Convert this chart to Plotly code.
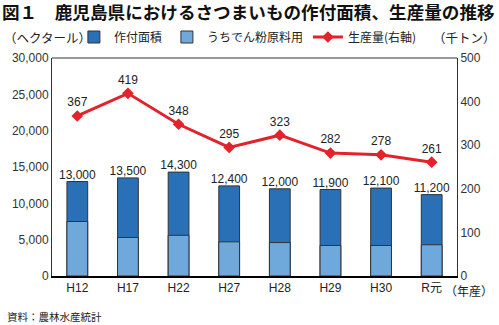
import plotly.graph_objects as go

years = ["H12", "H17", "H22", "H27", "H28", "H29", "H30", "R元"]
area_total = [13000, 13500, 14300, 12400, 12000, 11900, 12100, 11200]
area_starch = [7500, 5300, 5600, 4700, 4600, 4200, 4200, 4300]
production = [367, 419, 348, 295, 323, 282, 278, 261]

FONT = "Liberation Sans, Arial, Noto Sans CJK JP, sans-serif"
DARK = "#2a70b6"
LIGHT = "#6fa9dc"
RED = "#e2232b"

fig = go.Figure()
fig.add_trace(go.Bar(
    x=years, y=area_total, name="作付面積",
    marker=dict(color=DARK, line=dict(color="#333333", width=1)),
    width=0.41, yaxis="y",
))
fig.add_trace(go.Bar(
    x=years, y=area_starch, name="うちでん粉原料用",
    marker=dict(color=LIGHT, line=dict(color="#333333", width=1)),
    width=0.41, yaxis="y",
))
fig.add_trace(go.Scatter(
    x=years, y=area_total, mode="text",
    text=[f"{v:,}" for v in area_total], textposition="top center",
    textfont=dict(size=12, color="#222222", family=FONT),
    showlegend=False, hoverinfo="skip", cliponaxis=False, yaxis="y",
))
fig.add_trace(go.Scatter(
    x=years, y=production, name="生産量(右軸)", yaxis="y2",
    mode="lines+markers+text",
    line=dict(color=RED, width=3),
    marker=dict(symbol="diamond", size=9, color=RED),
    text=[str(v) for v in production], textposition="top center",
    textfont=dict(size=12, color="#222222", family=FONT),
    cliponaxis=False,
))

fig.update_layout(
    width=499, height=325,
    margin=dict(l=50, r=42, t=58, b=49),
    paper_bgcolor="white", plot_bgcolor="white",
    barmode="overlay",
    font=dict(family=FONT, size=12, color="#222222"),
    title=dict(
        text="<b>図１　鹿児島県におけるさつまいもの作付面積、生産量の推移</b>",
        xref="container", yref="container", x=0.004, xanchor="left",
        y=1 - 13 / 325, yanchor="middle",
        font=dict(size=17.6, family="Noto Sans CJK JP", color="#111111"),
    ),
    xaxis=dict(
        range=[-0.5, 7.5],
        showline=True, linecolor="black", linewidth=2,
        ticks="", tickfont=dict(size=12, family=FONT),
        showgrid=False,
    ),
    yaxis=dict(
        range=[0, 30000], dtick=5000, tickformat=",",
        showline=True, linecolor="#333333", linewidth=1, mirror=False,
        showgrid=False, zeroline=False, ticks="",
        tickfont=dict(size=12, family=FONT, color="#333333"),
    ),
    yaxis2=dict(
        range=[0, 500], dtick=100, overlaying="y", side="right",
        showline=True, linecolor="#333333", linewidth=1,
        showgrid=False, zeroline=False, ticks="",
        tickfont=dict(size=12, family=FONT, color="#333333"),
    ),
    legend=dict(
        orientation="h", x=(72 - 50) / 407, xanchor="left",
        y=(276 - 37) / 218, yanchor="middle",
        font=dict(size=12, family="Noto Sans CJK JP"),
        bgcolor="rgba(0,0,0,0)", itemwidth=30, tracegroupgap=0,
        traceorder="normal",
    ),
    shapes=[dict(type="line", xref="paper", yref="paper", x0=0, x1=1, y0=1, y1=1,
                 line=dict(color="#333333", width=1))],
    annotations=[
        dict(text="（ヘクタール）", xref="paper", yref="paper",
             x=(0 - 50) / 407, y=(276 - 37) / 218, xanchor="left", yanchor="middle",
             showarrow=False, font=dict(size=12.5, family="Noto Sans CJK JP")),
        dict(text="（千トン）", xref="paper", yref="paper",
             x=(498 - 50) / 407, y=(276 - 37) / 218, xanchor="right", yanchor="middle",
             showarrow=False, font=dict(size=12.5, family="Noto Sans CJK JP")),
        dict(text="（年産）", xref="x", yref="paper", x="R元", xshift=11,
             y=(276 - 290) / 218, xanchor="left", yanchor="middle",
             showarrow=False, font=dict(size=12, family="Noto Sans CJK JP")),
        dict(text="資料：農林水産統計", xref="paper", yref="paper",
             x=(3 - 50) / 407, y=(276 - 316) / 218, xanchor="left", yanchor="middle",
             showarrow=False, font=dict(size=10.5, family="Noto Sans CJK JP")),
    ],
)

fig.write_html("out.html")
